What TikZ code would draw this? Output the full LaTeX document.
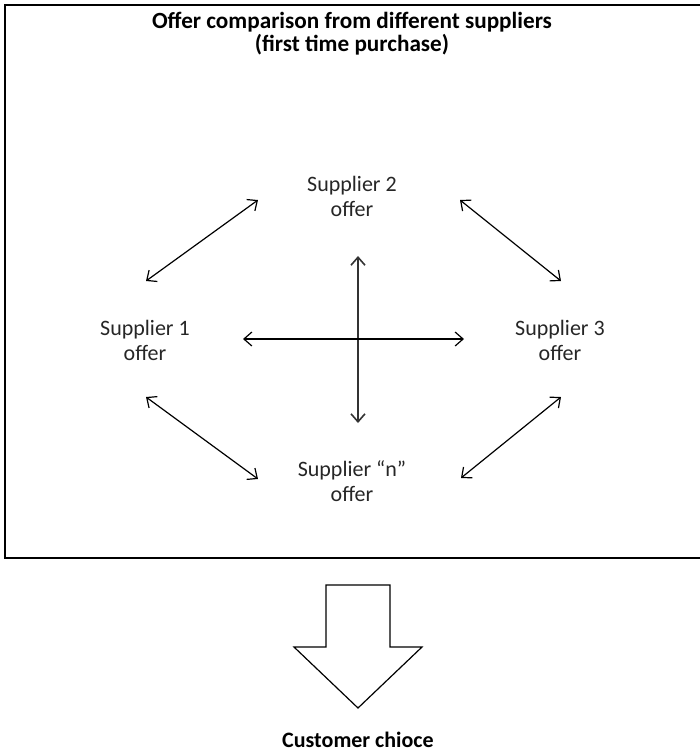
\documentclass[tikz,border=0pt]{standalone}
\usepackage{fontspec}
\setmainfont{Carlito}
\usetikzlibrary{arrows.meta}

\begin{document}
\begin{tikzpicture}[x=.5pt, y=-.5pt, line width=.6pt,
    dbl/.style={{Straight Barb[length=4pt,width=7pt]}-{Straight Barb[length=4pt,width=7pt]}},
    offer/.style={align=center, inner sep=0pt, text=black!85,
        font=\fontsize{11}{12.5}\selectfont},
    heading/.style={align=center, inner sep=0pt,
        font=\fontsize{11}{11.5}\selectfont\bfseries}]
\useasboundingbox (0,0) rectangle (700,752);

% frame (runs off the right side)
\draw (704,5) -- (5,5) -- (5,558) -- (704,558);
\node[heading, font=\fontsize{11.6}{11.5}\selectfont\bfseries] (title) at (352,34)
    {Offer comparison from different suppliers\\(first time purchase)};

% the four offers
\node[offer] (s2) at (352,196) {Supplier 2\\offer};
\node[offer] (s1) at (145,340) {Supplier 1\\offer};
\node[offer] (s3) at (560,340) {Supplier 3\\offer};
\node[offer] (sn) at (352,481) {Supplier ``n''\\offer};

% arrow ends
\coordinate (a12) at (146,281);  \coordinate (a21) at (258,200);
\coordinate (a23) at (460,200);  \coordinate (a32) at (561,281);
\coordinate (a1n) at (146,397);  \coordinate (an1) at (258,479);
\coordinate (a3n) at (561,397);  \coordinate (an3) at (461,478);
\coordinate (up) at (358,256);   \coordinate (down) at (358,423);
\coordinate (left) at (243,339); \coordinate (right) at (464,339);

\draw[dbl] (a12) -- (a21);
\draw[dbl] (a23) -- (a32);
\draw[dbl] (a1n) -- (an1);
\draw[dbl] (a3n) -- (an3);
\draw[dbl, line width=.8pt, black!80] (up) -- (down);
\draw[dbl] (left) -- (right);

% block arrow down to the choice
\draw (326,585) -- (390,585) -- (390,647) -- (422,647) -- (358,708)
    -- (294,647) -- (326,647) -- cycle;
\node[heading] (choice) at (358,740) {Customer chioce};
\end{tikzpicture}
\end{document}
